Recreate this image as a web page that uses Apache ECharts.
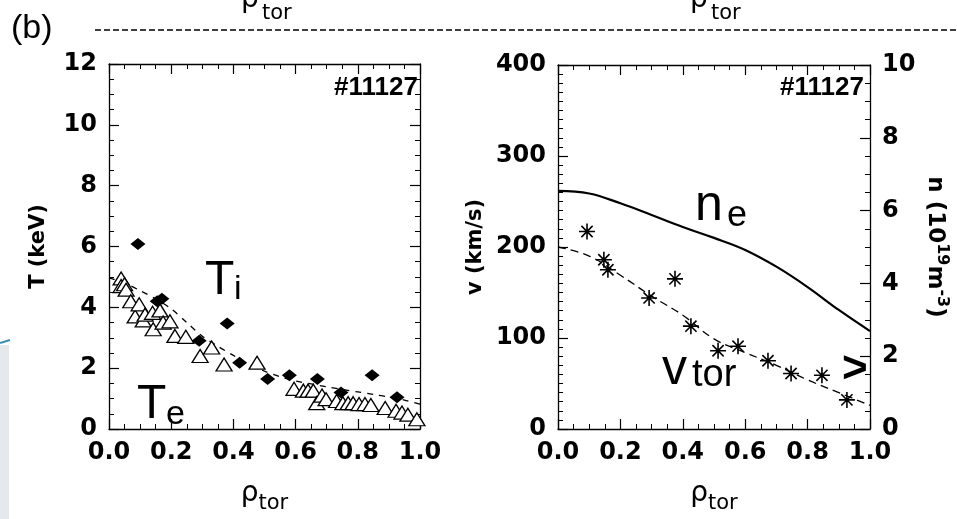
<!DOCTYPE html>
<html><head><meta charset="utf-8">
<script src="https://cdn.jsdelivr.net/npm/echarts@6/dist/echarts.min.js"></script>
<style>html,body{margin:0;padding:0;background:#fff}#c{width:957px;height:519px}</style>
</head><body><div id="c"></div>
<script>
// ---- data ----
const tiX = [0.093, 0.155, 0.17, 0.29, 0.38, 0.42, 0.51, 0.58, 0.67, 0.746, 0.846, 0.926];
const tiY = [6.08, 4.2, 4.28, 2.9, 3.47, 2.18, 1.64, 1.77, 1.64, 1.2, 1.77, 1.04];
const teX = [0.039,0.039,0.05,0.055,0.07,0.084,0.097,0.11,0.116,0.14,0.142,0.164,0.174,0.196,0.212,0.247,0.293,0.33,0.37,0.476,0.595,0.625,0.64,0.657,0.668,0.685,0.698,0.732,0.752,0.769,0.785,0.804,0.823,0.842,0.888,0.923,0.942,0.961,0.99];
const teY = [4.95,4.7,4.76,4.58,4.2,3.7,4.1,3.57,3.76,3.82,3.28,3.9,3.5,3.54,3.06,3.03,2.4,2.68,2.12,2.18,1.32,1.26,1.26,1.26,0.85,1.1,0.98,0.92,0.85,0.85,0.85,0.82,0.82,0.79,0.69,0.6,0.54,0.47,0.32];
const tiFitX = [0,0.05,0.1,0.15,0.2,0.25,0.3,0.35,0.4,0.45,0.5,0.55,0.6,0.65,0.7,0.75,0.8,0.85,0.9,0.95,1.0];
const tiFitY = [4.97,4.8,4.55,4.28,3.95,3.5,3.05,2.72,2.42,2.12,1.9,1.72,1.58,1.48,1.39,1.3,1.22,1.14,1.05,0.95,0.82];
const vX = [0.093,0.147,0.16,0.292,0.375,0.426,0.513,0.577,0.673,0.747,0.846,0.926];
const vY = [217,186,175,144,165,113,86,91,75,61,59,32];
const profX = [0,0.1,0.2,0.3,0.4,0.5,0.6,0.7,0.8,0.9,1.0];
const vFitY = [200,190,169,146,125,99,84,70,54,40,26];
const neY = [6.54,6.47,6.2,5.88,5.55,5.25,4.92,4.46,3.9,3.27,2.69];
const shotLabel = '#11127';

const zip = (a,b) => a.map((v,i)=>[v,b[i]]);
const BLACK = '#000';
const tickFont = {fontFamily:'DejaVu Sans', fontWeight:'bold', fontSize:24, color:BLACK};
const rhoName = {
  name:'{r|ρ}{t|tor}', nameLocation:'middle', nameGap:44,
  nameTextStyle:{rich:{r:{fontFamily:'DejaVu Sans',fontSize:28,color:BLACK,lineHeight:34},
                        t:{fontFamily:'DejaVu Sans',fontSize:21,color:BLACK,padding:[20,0,0,0]}}}
};
function xAx(grid, pos, labels){
  const o = {type:'value', gridIndex:grid, position:pos, min:0, max:1, interval:0.2,
    axisLine:{show:true, onZero:false, lineStyle:{color:BLACK,width:1.3}},
    axisTick:{show:true, inside:true, length:10, lineStyle:{color:BLACK,width:1.2}},
    minorTick:{show:true, splitNumber:4, length:5, lineStyle:{color:BLACK}},
    splitLine:{show:false},
    axisLabel:{show:labels, margin:12, ...tickFont, formatter:v=>v.toFixed(1)}};
  if (labels) Object.assign(o, rhoName);
  return o;
}
function yAx(grid, pos, min, max, interval, minor, labels, name, gap, rot, nameStyle){
  const o = {type:'value', gridIndex:grid, position:pos, min, max, interval,
    axisLine:{show:true, onZero:false, lineStyle:{color:BLACK,width:1.3}},
    axisTick:{show:true, inside:true, length:10, lineStyle:{color:BLACK,width:1.2}},
    minorTick:{show:true, splitNumber:minor, length:5, lineStyle:{color:BLACK}},
    splitLine:{show:false},
    axisLabel:{show:labels, margin:12, ...tickFont}};
  if (name){ o.name=name; o.nameLocation='middle'; o.nameGap=gap; o.nameRotate=rot; o.nameTextStyle=nameStyle; }
  return o;
}
const asterisk = 'path://M-10 -1L10 -1L10 1L-10 1Z M-1 -10L1 -10L1 10L-1 10Z M-6.3 -7.7L7.7 6.3L6.3 7.7L-7.7 -6.3Z M6.3 -7.7L7.7 -6.3L-6.3 7.7L-7.7 6.3Z';

const nameFont = {fontFamily:'DejaVu Sans', fontWeight:'bold', fontSize:21, color:BLACK};
const option = {
  animation:false, backgroundColor:'#fff',
  grid:[{left:109, top:64, width:311, height:380},{left:558, top:65, width:312, height:379}],
  xAxis:[xAx(0,'bottom',true), xAx(0,'top',false), xAx(1,'bottom',true), xAx(1,'top',false)],
  yAxis:[
    yAx(0,'left',0,12,2,4,true,'T (keV)',60,90,nameFont),
    yAx(0,'right',0,12,2,4,false),
    yAx(1,'left',0,400,100,10,true,'v (km/s)',72,90,nameFont),
    yAx(1,'right',0,10,2,4,true,'{a|n (10}{s|19}{a|m}{s|-3}{a|)}',50,-90,
      {rich:{a:{fontFamily:'DejaVu Sans',fontWeight:'bold',fontSize:23,color:BLACK,lineHeight:30},
             s:{fontFamily:'DejaVu Sans',fontWeight:'bold',fontSize:16,color:BLACK,padding:[0,0,14,0]}}})
  ],
  series:[
    {type:'line', xAxisIndex:0, yAxisIndex:0, data:zip(tiFitX,tiFitY), showSymbol:false, smooth:0.3,
      lineStyle:{color:BLACK, width:1.3, type:[6,6]}, z:2},
    {type:'scatter', xAxisIndex:0, yAxisIndex:0, data:zip(teX,teY), symbol:'triangle', symbolSize:[16,13],
      itemStyle:{color:'#fff', borderColor:BLACK, borderWidth:1.3, opacity:1}, z:3},
    {type:'scatter', xAxisIndex:0, yAxisIndex:0, data:zip(tiX,tiY), symbol:'diamond', symbolSize:[15,12],
      itemStyle:{color:BLACK, opacity:1}, z:4},
    {type:'line', xAxisIndex:2, yAxisIndex:3, data:zip(profX,neY), showSymbol:false, smooth:0.4,
      lineStyle:{color:BLACK, width:2.2}},
    {type:'line', xAxisIndex:2, yAxisIndex:2, data:zip(profX,vFitY), showSymbol:false, smooth:0.4,
      lineStyle:{color:BLACK, width:1.3, type:[8,5]}},
    {type:'scatter', xAxisIndex:2, yAxisIndex:2, data:zip(vX,vY), symbol:asterisk, symbolSize:16,
      itemStyle:{color:BLACK, opacity:1}, z:4}
  ],
  graphic:[
    {type:'rect', shape:{x:0,y:345,width:9,height:174}, style:{fill:'#e6e9ec'}, silent:true},
    {type:'line', shape:{x1:0,y1:343,x2:10,y2:340}, style:{stroke:'#3a8fb0',lineWidth:2}, silent:true},
    {type:'text', style:{x:11, y:29, text:'(b)', font:'34px "Liberation Sans"', fill:BLACK, verticalAlign:'middle'}},
    {type:'line', shape:{x1:95,y1:30,x2:957,y2:30}, style:{stroke:BLACK, lineWidth:1.4, lineDash:[6,3]}},
    {type:'text', style:{x:241, y:0, text:'ρ', font:'28px "DejaVu Sans"', fill:BLACK, verticalAlign:'middle'}},
    {type:'text', style:{x:262, y:14, text:'tor', font:'21px "DejaVu Sans"', fill:BLACK, verticalAlign:'middle'}},
    {type:'text', style:{x:690, y:0, text:'ρ', font:'28px "DejaVu Sans"', fill:BLACK, verticalAlign:'middle'}},
    {type:'text', style:{x:711, y:14, text:'tor', font:'21px "DejaVu Sans"', fill:BLACK, verticalAlign:'middle'}},
    {type:'text', style:{x:418, y:88, text:shotLabel, font:'bold 26px "Liberation Sans"', fill:BLACK, align:'right', verticalAlign:'middle'}},
    {type:'text', style:{x:864, y:88, text:shotLabel, font:'bold 26px "Liberation Sans"', fill:BLACK, align:'right', verticalAlign:'middle'}},
    {type:'text', style:{x:205, y:281, text:'T', font:'48px "Liberation Sans"', fill:BLACK, verticalAlign:'middle'}},
    {type:'text', style:{x:234, y:290, text:'i', font:'34px "Liberation Sans"', fill:BLACK, verticalAlign:'middle'}},
    {type:'text', style:{x:137, y:405, text:'T', font:'48px "Liberation Sans"', fill:BLACK, verticalAlign:'middle'}},
    {type:'text', style:{x:166, y:415, text:'e', font:'34px "Liberation Sans"', fill:BLACK, verticalAlign:'middle'}},
    {type:'text', style:{x:695, y:206, text:'n', font:'50px "Liberation Sans"', fill:BLACK, verticalAlign:'middle'}},
    {type:'text', style:{x:727, y:216, text:'e', font:'36px "Liberation Sans"', fill:BLACK, verticalAlign:'middle'}},
    {type:'text', style:{x:662, y:370, text:'v', font:'50px "Liberation Sans"', fill:BLACK, verticalAlign:'middle'}},
    {type:'text', style:{x:692, y:376, text:'tor', font:'38px "Liberation Sans"', fill:BLACK, verticalAlign:'middle'}},
    {type:'text', style:{x:842, y:370, text:'>', font:'bold 44px "Liberation Sans"', fill:BLACK, verticalAlign:'middle'}}
  ]
};
const chart = echarts.init(document.getElementById('c'), null, {renderer:'canvas'});
chart.setOption(option);
</script></body></html>
